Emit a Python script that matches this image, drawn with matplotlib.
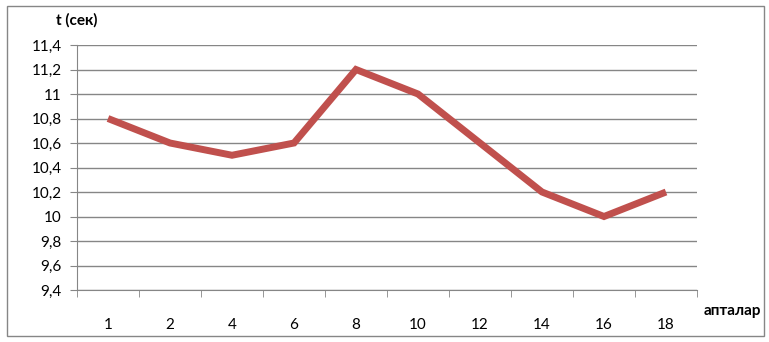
import matplotlib
matplotlib.use("Agg")
import matplotlib.pyplot as plt
from matplotlib.ticker import FixedLocator, FuncFormatter
from matplotlib.patches import Rectangle

# Data
weeks = ["1", "2", "4", "6", "8", "10", "12", "14", "16", "18"]
times = [10.8, 10.6, 10.5, 10.6, 11.2, 11.0, 10.6, 10.2, 10.0, 10.2]
y_ticks = [9.4, 9.6, 9.8, 10.0, 10.2, 10.4, 10.6, 10.8, 11.0, 11.2, 11.4]

plt.rcParams['font.family'] = ['Lato', 'Open Sans', 'DejaVu Sans']

fig = plt.figure(figsize=(7.69, 3.42), dpi=100)
fig.patch.set_facecolor("white")
ax = fig.add_axes([77 / 769, 52 / 342, 620 / 769, 245 / 342])

x = list(range(len(weeks)))
ax.plot(x, times, color="#C0504D", linewidth=5.0, solid_joinstyle="miter",
        solid_capstyle="butt", zorder=3)

ax.set_xlim(-0.5, len(weeks) - 0.5)
ax.set_ylim(9.4, 11.4)

ax.set_yticks(y_ticks)
ax.yaxis.set_major_formatter(FuncFormatter(lambda v, p: f"{v:g}".replace(".", ",")))
ax.grid(axis="y", color="#868686", linewidth=1.0, zorder=1)

ax.set_xticks(x)
ax.set_xticklabels(weeks)
ax.xaxis.set_minor_locator(FixedLocator([i + 0.5 for i in range(-1, len(weeks))]))
ax.tick_params(axis="x", which="major", length=0, pad=20, labelsize=11)
ax.tick_params(axis="x", which="minor", length=5, color="#868686", direction="out")
ax.tick_params(axis="y", length=5, color="#868686", labelsize=11, pad=6)

for s in ["top", "right"]:
    ax.spines[s].set_visible(False)
for s in ["left", "bottom"]:
    ax.spines[s].set_color("#868686")

fig.text(98 / 769, 1 - 20 / 342, "t (сек)", fontsize=11, fontweight="bold",
         ha="right", va="center")
fig.text(732 / 769, 1 - 311 / 342, "апталар", fontsize=11, fontweight="bold",
         ha="center", va="center")

fig.patches.append(Rectangle((7 / 769, 6 / 342), 757 / 769, 330 / 342,
                             transform=fig.transFigure, fill=False,
                             edgecolor="#868686", linewidth=1.0))

fig.savefig("out.png", dpi=100)
